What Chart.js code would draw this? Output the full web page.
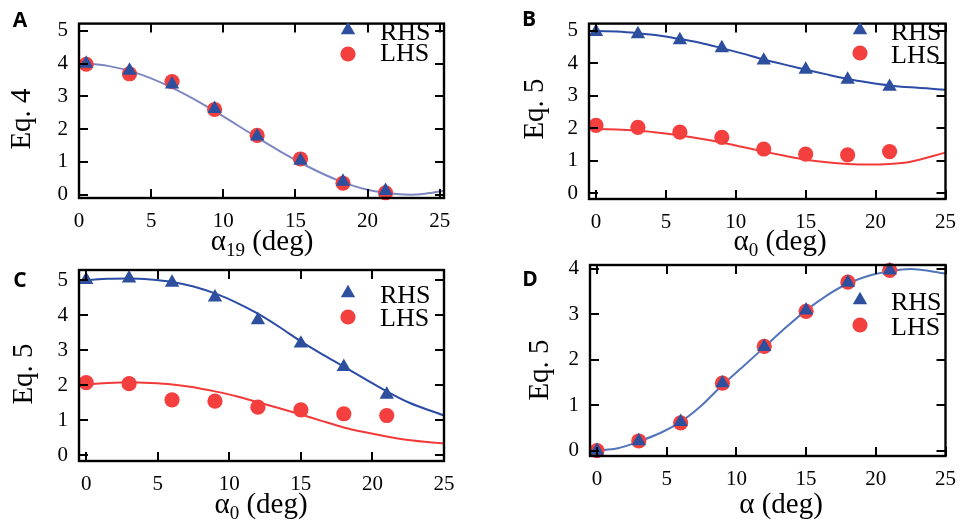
<!DOCTYPE html>
<html lang="en">
<head>
  <meta charset="UTF-8">
  <title>Eq. 4 / Eq. 5 – RHS vs LHS</title>
  <script src="https://cdn.jsdelivr.net/npm/chart.js"></script>
  <style>
    html, body { margin: 0; padding: 0; background: #fff; }
    #wrap { position: relative; width: 967px; height: 528px; }
    #wrap canvas { position: absolute; left: 0; top: 0; }
  </style>
</head>
<body>
  <div id="wrap">
    <canvas id="panelA" width="967" height="528"></canvas>
    <canvas id="panelB" width="967" height="528"></canvas>
    <canvas id="panelC" width="967" height="528"></canvas>
    <canvas id="panelD" width="967" height="528"></canvas>
  </div>

  <script>
    // tick labels
    const xTicks = [0, 5, 10, 15, 20, 25];
    const yTicks5 = [0, 1, 2, 3, 4, 5];
    const yTicks4 = [0, 1, 2, 3, 4];

    // panel A (Eq. 4 vs alpha_19)
    const angleA = [0.5, 3.5, 6.45, 9.4, 12.35, 15.35, 18.3, 21.25];
    const rhsA = [4.0, 3.79, 3.37, 2.62, 1.78, 1.04, 0.4, 0.12];
    const lhsA = [3.98, 3.69, 3.45, 2.6, 1.81, 1.09, 0.35, 0.06];
    const fitAx = [0, 2, 4, 6, 8, 10, 12, 14, 16, 18, 20, 22, 23, 24, 25.3];
    const fitA = [4.02, 3.93, 3.71, 3.36, 2.91, 2.39, 1.84, 1.31, 0.83, 0.43, 0.15, 0.02, 0.0, 0.03, 0.12];

    // panels B, C, D share the sampled angles
    const angle = [0, 3, 6, 9, 12, 15, 18, 21];

    // panel B
    const rhsB = [4.97, 4.9, 4.72, 4.47, 4.09, 3.81, 3.5, 3.28];
    const lhsB = [2.09, 2.03, 1.88, 1.72, 1.36, 1.2, 1.18, 1.28];
    const fitBx = [-0.5, 0, 1.5, 3, 4.5, 6, 7.5, 9, 10.5, 12, 13.5, 15, 16.5, 18, 19.5, 21, 22.5, 25];
    const fitBRhs = [5.0, 5.0, 4.98, 4.93, 4.86, 4.75, 4.63, 4.47, 4.30, 4.12, 3.96, 3.81, 3.66, 3.52, 3.41, 3.32, 3.26, 3.19];
    const fitBLhs = [1.99, 1.98, 1.96, 1.93, 1.86, 1.78, 1.68, 1.56, 1.42, 1.28, 1.15, 1.03, 0.95, 0.9, 0.88, 0.9, 0.97, 1.25];

    // panel C
    const rhsC = [5.01, 5.05, 4.93, 4.51, 3.86, 3.19, 2.52, 1.73];
    const lhsC = [2.07, 2.04, 1.58, 1.54, 1.37, 1.29, 1.18, 1.13];
    const fitCx = [-0.5, 0, 1.5, 3, 4.5, 6, 7.5, 9, 10.5, 12, 13.5, 15, 16.5, 18, 19.5, 21, 22.5, 25];
    const fitCRhs = [4.98, 5.0, 5.04, 5.05, 5.02, 4.95, 4.82, 4.62, 4.36, 4.04, 3.66, 3.25, 2.88, 2.53, 2.17, 1.82, 1.51, 1.13];
    const fitCLhs = [2.01, 2.02, 2.06, 2.08, 2.06, 2.02, 1.94, 1.82, 1.68, 1.51, 1.34, 1.16, 0.97, 0.79, 0.65, 0.53, 0.43, 0.33];

    // panel D
    const rhsD = [0.0, 0.21, 0.63, 1.48, 2.28, 3.08, 3.69, 3.96];
    const lhsD = [0.0, 0.21, 0.61, 1.48, 2.29, 3.06, 3.7, 3.96];
    const fitDx = [0, 1.5, 3, 4.5, 6, 7.5, 9, 10.5, 12, 13.5, 15, 16.5, 18, 19.5, 21, 22.5, 25];
    const fitD = [0, 0.05, 0.2, 0.38, 0.63, 0.99, 1.44, 1.85, 2.27, 2.69, 3.08, 3.41, 3.67, 3.84, 3.94, 3.99, 3.89];

    const serif = '"Liberation Serif", "Times New Roman", serif';
    const triColor = '#2d4f9e';
    const dotColor = '#f43f3f';

    Chart.defaults.font.family = serif;
    Chart.defaults.color = '#000';

    const pts = (xs, ys) => xs.map((x, i) => ({ x: x, y: ys[i] }));

    function curve(xs, ys, color) {
      return {
        label: 'fit', data: pts(xs, ys), showLine: true, pointRadius: 0,
        borderColor: color, borderWidth: 2, cubicInterpolationMode: 'monotone', order: 3
      };
    }
    function rhs(xs, ys) {
      return {
        label: 'RHS', data: pts(xs, ys), pointStyle: 'triangle', pointRadius: 8.3,
        backgroundColor: triColor, borderColor: triColor, borderWidth: 0, clip: false, order: 0
      };
    }
    function lhs(xs, ys) {
      return {
        label: 'LHS', data: pts(xs, ys), pointStyle: 'circle', pointRadius: 7.6,
        backgroundColor: dotColor, borderColor: dotColor, borderWidth: 0, clip: false, order: 1
      };
    }

    // frame, inward ticks, titles, legend and panel letter
    const decor = {
      id: 'decor',
      afterDraw(chart, args, o) {
        const ctx = chart.ctx;
        const a = chart.chartArea;
        const xs = chart.scales.x, ys = chart.scales.y;
        ctx.save();
        ctx.strokeStyle = '#000';
        ctx.lineWidth = 2;
        ctx.beginPath();
        xs.ticks.forEach(t => {
          const px = Math.round(xs.getPixelForValue(t.value));
          ctx.moveTo(px, a.bottom); ctx.lineTo(px, a.bottom - 9);
          ctx.moveTo(px, a.top); ctx.lineTo(px, a.top + 9);
        });
        ys.ticks.forEach(t => {
          const py = Math.round(ys.getPixelForValue(t.value));
          ctx.moveTo(a.left, py); ctx.lineTo(a.left + 9, py);
          ctx.moveTo(a.right, py); ctx.lineTo(a.right - 9, py);
        });
        ctx.stroke();
        ctx.lineWidth = 2.4;
        ctx.strokeRect(a.left, a.top, a.right - a.left, a.bottom - a.top);

        ctx.fillStyle = '#000';
        // x title with optional subscript
        ctx.font = '29px ' + serif;
        const main = 'α', tail = ' (deg)';
        const wMain = ctx.measureText(main).width;
        const wTail = ctx.measureText(tail).width;
        ctx.font = '19px ' + serif;
        const wSub = o.sub ? ctx.measureText(o.sub).width : 0;
        let x0 = o.xt[0] - (wMain + wSub + wTail) / 2;
        ctx.textBaseline = 'alphabetic';
        ctx.textAlign = 'left';
        ctx.font = '29px ' + serif;
        ctx.fillText(main, x0, o.xt[1]);
        if (o.sub) {
          ctx.font = '19px ' + serif;
          ctx.fillText(o.sub, x0 + wMain, o.xt[1] + 6);
        }
        ctx.font = '29px ' + serif;
        ctx.fillText(tail, x0 + wMain + wSub, o.xt[1]);

        // y title
        ctx.save();
        ctx.translate(o.yt[0], o.yt[1]);
        ctx.rotate(-Math.PI / 2);
        ctx.textAlign = 'center';
        ctx.textBaseline = 'middle';
        ctx.font = '29px ' + serif;
        ctx.fillText(o.ytitle, 0, 0);
        ctx.restore();

        // legend
        const L = o.legend;
        ctx.fillStyle = triColor;
        ctx.beginPath();
        const r = 8.3;
        for (let k = 0; k < 3; k++) {
          const ang = k * 2 * Math.PI / 3;
          const px = L.sx + Math.sin(ang) * r, py = L.ty - Math.cos(ang) * r;
          k ? ctx.lineTo(px, py) : ctx.moveTo(px, py);
        }
        ctx.closePath();
        ctx.fill();
        ctx.fillStyle = dotColor;
        ctx.beginPath();
        ctx.arc(L.sx, L.cy, 7.6, 0, Math.PI * 2);
        ctx.fill();
        ctx.fillStyle = '#000';
        ctx.font = '26px ' + serif;
        ctx.textAlign = 'left';
        ctx.textBaseline = 'alphabetic';
        ctx.fillText('RHS', L.tx, L.b1);
        ctx.fillText('LHS', L.tx, L.b2);

        // panel letter
        ctx.font = 'bold 21px "Open Sans", "Liberation Sans", sans-serif';
        ctx.textAlign = 'center';
        ctx.textBaseline = 'middle';
        ctx.fillText(o.letter, o.lp[0], o.lp[1]);
        ctx.restore();
      }
    };

    function makePanel(id, p) {
      const W = 967, H = 528, yW = 40, xH = 40;
      new Chart(document.getElementById(id), {
        type: 'scatter',
        data: { datasets: p.datasets },
        plugins: [decor],
        options: {
          responsive: false,
          animation: false,
          events: [],
          layout: {
            padding: { left: p.box[0] - yW, top: p.box[1], right: W - p.box[2], bottom: H - p.box[3] - xH }
          },
          plugins: {
            legend: { display: false },
            tooltip: { enabled: false },
            decor: p.decor
          },
          scales: {
            x: {
              type: 'linear', min: p.xr[0], max: p.xr[1],
              afterBuildTicks: s => { s.ticks = xTicks.map(v => ({ value: v })); },
              afterFit: s => { s.height = xH; },
              grid: { display: false, drawTicks: false },
              border: { display: false },
              ticks: { padding: 11, color: '#000', font: { family: serif, size: 21 } }
            },
            y: {
              type: 'linear', min: p.yr[0], max: p.yr[1],
              afterBuildTicks: s => { s.ticks = p.yt.map(v => ({ value: v })); },
              afterFit: s => { s.width = yW; },
              grid: { display: false, drawTicks: false },
              border: { display: false },
              ticks: { padding: 11, color: '#000', font: { family: serif, size: 21 } }
            }
          }
        }
      });
    }

    function drawAll() {
      makePanel('panelA', {
        box: [79, 7, 444, 198], xr: [0, 25.3], yr: [-0.1, 5.22], yt: yTicks5,
        datasets: [rhs(angleA, rhsA), lhs(angleA, lhsA), curve(fitAx, fitA, '#7e86c2')],
        decor: {
          letter: 'A', lp: [20, 21], ytitle: 'Eq. 4', yt: [22, 119], xt: [262, 250], sub: '19',
          legend: { sx: 348, ty: 30, cy: 54, tx: 380, b1: 40, b2: 61 }
        }
      });

      makePanel('panelB', {
        box: [589, 7, 955, 199], xr: [-0.5, 25], yr: [-0.18, 5.225], yt: yTicks5,
        datasets: [rhs(angle, rhsB), lhs(angle, lhsB), curve(fitBx, fitBRhs, '#2b4ca6'), curve(fitBx, fitBLhs, '#f23a3a')],
        decor: {
          letter: 'B', lp: [529, 20], ytitle: 'Eq. 5', yt: [535, 109], xt: [780, 250], sub: '0',
          legend: { sx: 860, ty: 30, cy: 53, tx: 891, b1: 40, b2: 63 }
        }
      });

      makePanel('panelC', {
        box: [79, 270, 444, 461], xr: [-0.5, 25], yr: [-0.17, 5.29], yt: yTicks5,
        datasets: [rhs(angle, rhsC), lhs(angle, lhsC), curve(fitCx, fitCRhs, '#2b4ca6'), curve(fitCx, fitCLhs, '#f23a3a')],
        decor: {
          letter: 'C', lp: [20, 281], ytitle: 'Eq. 5', yt: [24, 374], xt: [261, 513], sub: '0',
          legend: { sx: 348, ty: 293, cy: 317, tx: 380, b1: 303, b2: 326 }
        }
      });

      makePanel('panelD', {
        box: [590, 265, 955, 456], xr: [-0.5, 25], yr: [-0.12, 4.077], yt: yTicks4,
        datasets: [rhs(angle, rhsD), lhs(angle, lhsD), curve(fitDx, fitD, '#5274ba')],
        decor: {
          letter: 'D', lp: [530, 280], ytitle: 'Eq. 5', yt: [540, 370], xt: [781, 513], sub: '',
          legend: { sx: 860, ty: 300, cy: 325, tx: 891, b1: 310, b2: 335 }
        }
      });
    }

    // make sure the installed fonts are ready before the canvases are painted
    Promise.all([
      document.fonts.load('21px "Liberation Serif"'),
      document.fonts.load('29px "Liberation Serif"'),
      document.fonts.load('bold 21px "Open Sans"')
    ]).then(drawAll, drawAll);
  </script>
</body>
</html>
